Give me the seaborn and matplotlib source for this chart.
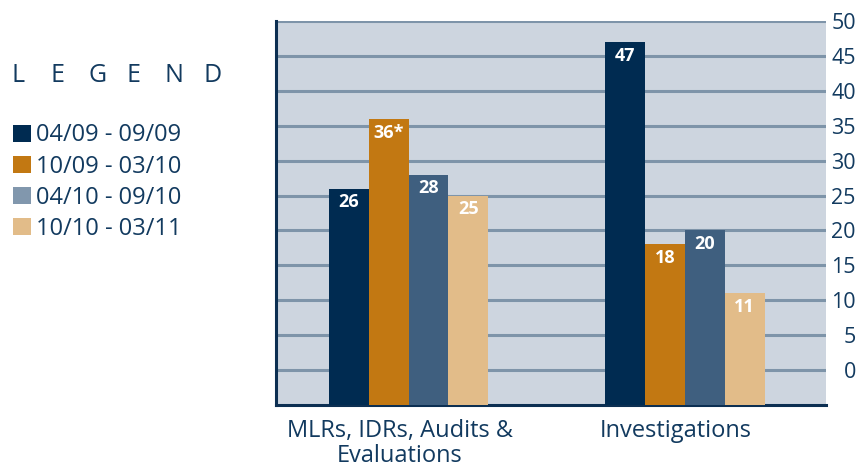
import pandas as pd
import matplotlib
matplotlib.use("Agg")
import matplotlib.pyplot as plt
import matplotlib.transforms as mtransforms
from matplotlib.patches import Patch
import seaborn as sns

# data
categories = ["MLRs, IDRs, Audits &\nEvaluations", "Investigations"]
periods = ["04/09 - 09/09", "10/09 - 03/10", "04/10 - 09/10", "10/10 - 03/11"]
mlr_values = [26, 36, 28, 25]
inv_values = [47, 18, 20, 11]
mlr_labels = ["26", "36*", "28", "25"]
inv_labels = ["47", "18", "20", "11"]
y_ticks = [0, 5, 10, 15, 20, 25, 30, 35, 40, 45, 50]

bar_colors = ["#002b51", "#c27812", "#3f5f7f", "#e2bc89"]
legend_colors = ["#002b51", "#c27812", "#8197ad", "#e2bc89"]
navy = "#123a5f"
floor = -5  # the chart floor sits below the zero line

rows = []
for cat, vals in zip(categories, [mlr_values, inv_values]):
    for per, v in zip(periods, vals):
        rows.append({"category": cat, "period": per, "value": v})
df = pd.DataFrame(rows)
df["height"] = df["value"] - floor

sns.set_theme(style="white")
plt.rcParams["font.family"] = ["Open Sans", "DejaVu Sans"]

fig = plt.figure(figsize=(8.57, 4.68), dpi=100)
ax = fig.add_axes([276 / 857, 63 / 468, 550 / 857, 384 / 468])
ax.set_facecolor("#cdd5df")

for t in y_ticks:
    ax.axhline(t, color="#7e94a9", lw=2.2, zorder=1)

sns.barplot(data=df, x="category", y="height", hue="period", palette=bar_colors,
            width=0.576, bottom=floor, ax=ax, legend=False, zorder=3, saturation=1,
            linewidth=0, edgecolor="none")

labels = [mlr_labels, inv_labels]
for i, cont in enumerate(ax.containers):
    for j, p in enumerate(cont):
        ax.annotate(labels[j][i], (p.get_x() + p.get_width() / 2, p.get_y() + p.get_height()),
                    xytext=(0, -3.5), textcoords="offset points", ha="center", va="top",
                    color="white", fontsize=13, fontweight="bold", zorder=4)

ax.set_xlim(-0.48, 1.51)
ax.set_ylim(floor, 50)
ax.set_xlabel("")
ax.set_ylabel("")
ax.yaxis.tick_right()
ax.set_yticks(y_ticks)
ax.set_yticklabels([str(t) for t in y_ticks], ha="right")
ax.tick_params(axis="y", length=0, pad=21.5, labelsize=15.5, labelcolor=navy)
ax.tick_params(axis="x", length=0, pad=10, labelsize=17, labelcolor=navy)
shift = mtransforms.ScaledTranslation(-9 / 100, 0, fig.dpi_scale_trans)
for lab in ax.get_xticklabels():
    lab.set_linespacing(1.05)
    lab.set_transform(lab.get_transform() + shift)

for s in ["top", "right"]:
    ax.spines[s].set_visible(False)
for s in ["left", "bottom"]:
    ax.spines[s].set_color("#0c2f52")
    ax.spines[s].set_linewidth(2.2)

# legend
for k, letter in enumerate("LEGEND"):
    fig.text((12 + 38.2 * k) / 857, 1 - 76 / 468, letter, fontsize=18, color=navy,
             ha="left", va="center")
handles = [Patch(facecolor=c, edgecolor="none") for c in legend_colors]
fig.legend(handles, periods, loc="upper left", bbox_to_anchor=(4 / 857, 1 - 114 / 468),
           frameon=False, fontsize=17, labelcolor=navy, handlelength=0.75,
           handleheight=0.75, handletextpad=0.2, labelspacing=0.3, borderaxespad=0)

fig.savefig("out.png", dpi=100)
